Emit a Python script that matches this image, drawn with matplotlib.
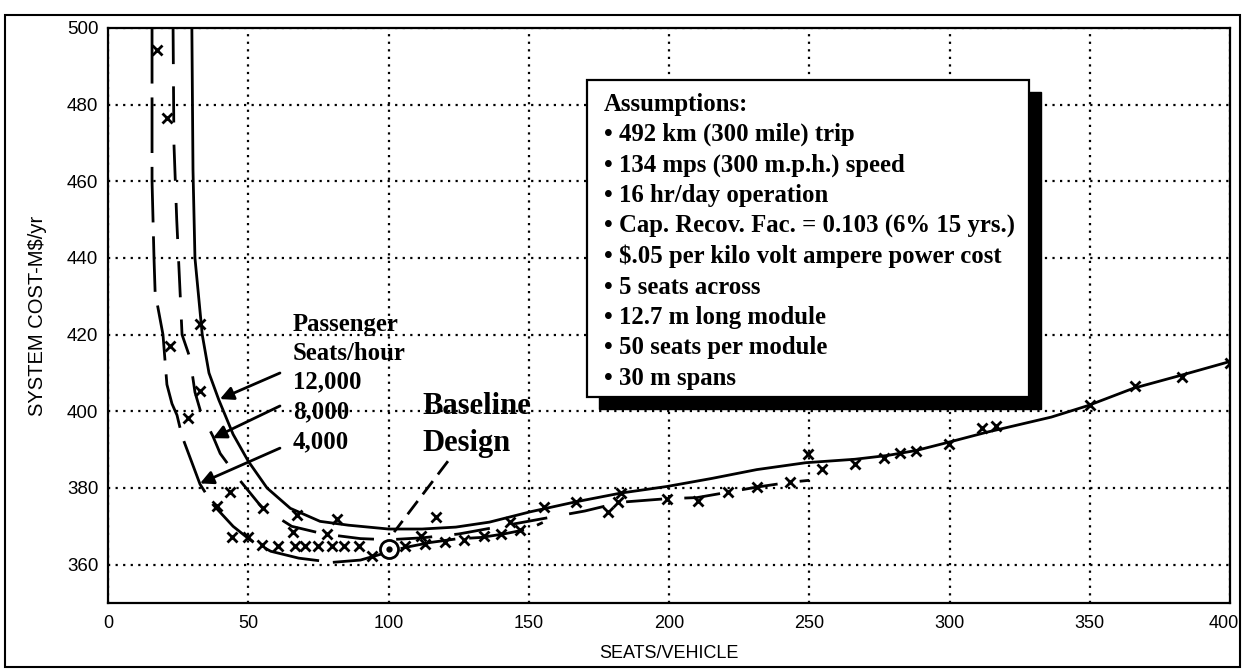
import matplotlib
matplotlib.use("Agg")
import matplotlib.pyplot as plt
from matplotlib.patches import Rectangle
from matplotlib.transforms import ScaledTranslation
import numpy as np

# ---------------- data ----------------
# 12,000 seats/hour (solid)
a_x = [29.9, 30.3, 31.0, 33.6, 36.0, 39.5, 44.6, 50.0, 56.7, 65.0, 75.6, 85.7, 100.0, 112.0,
       124.0, 136.0, 150.6, 166.8, 183.0, 199.3, 215.3, 231.3, 248.8, 266.3, 278.0, 288.2,
       300.0, 313.0, 336.3, 349.4, 365.5, 383.0, 400.0]
a_y = [500, 463, 440, 420, 410, 403, 394, 387, 380, 374.7, 371.3, 370.3, 369.3, 369.3,
       369.8, 371.1, 373.8, 376.4, 378.7, 380.4, 382.5, 384.8, 386.6, 387.5, 388.5, 389.8,
       392.0, 394.5, 398.5, 401.5, 406.0, 409.5, 413.0]
# 8,000 seats/hour (dashed)
b_x = [23.2, 23.5, 24.5, 26.4, 29.2, 31.0, 33.0, 37.4, 40.0, 47.0, 54.8, 65.5, 77.0, 90.0,
       100.0, 112.0, 125.0, 140.0, 155.0, 170.0, 183.0, 199.0, 210.0, 221.0, 231.0, 243.0, 250.0]
b_y = [500, 470, 450, 420, 414, 405, 400, 393.5, 389, 382, 375, 370, 368, 366.8,
       366.5, 367, 368, 370, 372, 374, 376.3, 377.2, 377.5, 378.9, 380.2, 381.5, 382]
# 4,000 seats/hour (long dashes)
c_x = [15.7, 15.7, 16.4, 16.8, 19.6, 21.0, 22.8, 24.6, 26.4, 32.8, 37.4, 44.6, 50.6, 58.0,
       68.0, 80.0, 90.0, 100.0, 106.0, 115.0, 124.0, 133.0, 141.0, 150.0, 155.0]
c_y = [500, 460, 440, 431, 420, 407, 402, 399, 393.5, 381, 375.7, 370, 366.5, 363.5,
       361.7, 360.6, 361.2, 363.3, 364.5, 365.8, 366.7, 367.1, 368, 369.3, 371]
# data points (x marks)
pts_x = [17.4, 21.0, 22.1, 32.8, 28.5, 32.8, 43.5, 38.8, 44.2, 50.0, 55.3, 67.4, 81.6, 66.0,
         78.0, 54.8, 60.7, 66.7, 70.2, 75.0, 79.8, 84.0, 89.4, 117.0, 111.6, 94.2, 155.4,
         166.8, 183.0, 178.2, 181.8, 199.3, 210.2, 221.1, 231.3, 243.0, 249.6, 254.7, 266.3,
         276.5, 282.4, 288.2, 299.9, 311.5, 316.6, 350.0, 366.2, 383.0, 400.0,
         106.0, 113.0, 120.0, 127.0, 134.0, 140.0, 147.0, 143.4]
pts_y = [494.3, 476.5, 417.0, 405.3, 398.2, 422.8, 379.0, 375.2, 367.3, 367.3, 374.7, 373.0,
         372.0, 368.6, 368.1, 365.2, 365.0, 365.0, 365.0, 365.0, 365.0, 365.0, 365.0, 372.4,
         367.6, 362.2, 375.1, 376.4, 378.7, 373.8, 376.3, 377.2, 376.7, 378.9, 380.2, 381.5,
         389.0, 385.0, 386.2, 387.9, 389.2, 389.7, 391.4, 395.7, 396.1, 401.7, 406.5, 409.0,
         412.5, 365.0, 365.5, 366.0, 366.5, 367.5, 368.0, 369.0, 371.1]
baseline_pt = (100.0, 364.0)

x_ticks = [0, 50, 100, 150, 200, 250, 300, 350, 400]
y_ticks = [360, 380, 400, 420, 440, 460, 480, 500]
x_label = "SEATS/VEHICLE"
y_label = "SYSTEM COST-M$/yr"
legend_title = "Passenger"
legend_sub = "Seats/hour"
series_names = ["12,000", "8,000", "4,000"]
assumptions = ["Assumptions:",
               "\u2022 492 km (300 mile) trip",
               "\u2022 134 mps (300 m.p.h.) speed",
               "\u2022 16 hr/day operation",
               "\u2022 Cap. Recov. Fac. = 0.103 (6% 15 yrs.)",
               "\u2022 $.05 per kilo volt ampere power cost",
               "\u2022 5 seats across",
               "\u2022 12.7 m long module",
               "\u2022 50 seats per module",
               "\u2022 30 m spans"]

# ---------------- figure ----------------
W, H = 1243, 669
fig = plt.figure(figsize=(W / 100, H / 100), dpi=100)
fig.patch.set_facecolor("white")

def fx(px):
    return px / W

def fy(py):
    return 1 - py / H

ax = fig.add_axes([fx(108), fy(603), fx(1230) - fx(108), fy(28) - fy(603)])
ax.set_xlim(0, 400)
ax.set_ylim(350, 500)

sans = ["Liberation Sans", "DejaVu Sans"]
serif = ["Liberation Serif", "DejaVu Serif"]

ax.set_xticks(x_ticks)
ax.set_yticks(y_ticks)
ax.set_xticklabels([str(v) for v in x_ticks], fontfamily=sans, fontsize=13)
ax.set_yticklabels([str(v) for v in y_ticks], fontfamily=sans, fontsize=13.5)
ax.tick_params(axis="both", length=0)
ax.tick_params(axis="x", pad=9)
ax.tick_params(axis="y", pad=7)
# keep last x label inside the frame
last = ax.get_xticklabels()[-1]
last.set_transform(last.get_transform() + ScaledTranslation(-6 / 100, 0, fig.dpi_scale_trans))

for s in ax.spines.values():
    s.set_linewidth(1.6)
ax.grid(True, color="black", linestyle=(0, (1, 2.4)), linewidth=1.6)
ax.set_axisbelow(True)

ax.set_xlabel(x_label, fontfamily=sans, fontsize=13, labelpad=9)
ax.set_ylabel(y_label, fontfamily=sans, fontsize=14.5, labelpad=14)

lw = 2.0
ax.plot(a_x, a_y, color="black", lw=lw, solid_capstyle="butt", zorder=3)
ax.plot(b_x, b_y, color="black", lw=lw, linestyle=(0, (13, 8)), zorder=3)
ax.plot(c_x, c_y, color="black", lw=lw, linestyle=(0, (20, 5)), zorder=3)
ax.plot(pts_x, pts_y, linestyle="none", marker="x", markersize=7, mew=2.0,
        color="black", zorder=4)

# baseline design circle
ax.plot([baseline_pt[0]], [baseline_pt[1]], marker="o", markersize=13, mfc="white",
        mec="black", mew=2.0, zorder=5)
ax.plot([baseline_pt[0]], [baseline_pt[1]], marker="o", markersize=3.5, color="black",
        zorder=6)
ax.plot([121.2, 102.0], [387.0, 368.5], color="black", lw=2.0,
        linestyle=(0, (6, 3)), zorder=5)

# arrows for passenger seats/hour labels
arrow_specs = [((61.3, 410.0), (39.9, 403.2)),
               ((61.3, 401.4), (37.4, 393.0)),
               ((61.3, 390.4), (32.8, 381.2))]
for (sx, sy), (ex, ey) in arrow_specs:
    ax.annotate("", xy=(ex, ey), xytext=(sx, sy),
                arrowprops=dict(arrowstyle="-|>", color="black", lw=2.0,
                                mutation_scale=20, shrinkA=0, shrinkB=0),
                zorder=6)

# text labels
tfont = dict(fontfamily=serif, fontweight="bold", fontsize=17.8, color="black",
             va="center", ha="left")
fig.text(fx(293), fy(324), legend_title, **tfont)
fig.text(fx(293), fy(353), legend_sub, **tfont)
for name, py in zip(series_names, [382, 412, 442]):
    fig.text(fx(293), fy(py), name, **tfont)

bfont = dict(tfont)
bfont["fontsize"] = 22
fig.text(fx(422), fy(406), "Baseline", **bfont)
fig.text(fx(422), fy(443), "Design", **bfont)

# assumptions box with drop shadow
bx0, bx1, by0, by1 = 587, 1029, 80, 397
sh = 12
fig.patches.append(Rectangle((fx(bx0 + sh), fy(by1 + sh)), fx(bx1) - fx(bx0),
                             fy(by0) - fy(by1), transform=fig.transFigure,
                             facecolor="black", edgecolor="black", zorder=5))
fig.patches.append(Rectangle((fx(bx0), fy(by1)), fx(bx1) - fx(bx0),
                             fy(by0) - fy(by1), transform=fig.transFigure,
                             facecolor="white", edgecolor="black", lw=1.6, zorder=6))
afont = dict(tfont)
afont["fontsize"] = 17.8
afont["zorder"] = 7
for i, line in enumerate(assumptions):
    fig.text(fx(604), fy(104 + i * 30.5), line, **afont)

# outer frame
fig.patches.append(Rectangle((fx(5), fy(667)), fx(1240) - fx(5), fy(15) - fy(667),
                             transform=fig.transFigure, facecolor="none",
                             edgecolor="black", lw=1.5, zorder=8))

fig.savefig("out.png", dpi=100)
